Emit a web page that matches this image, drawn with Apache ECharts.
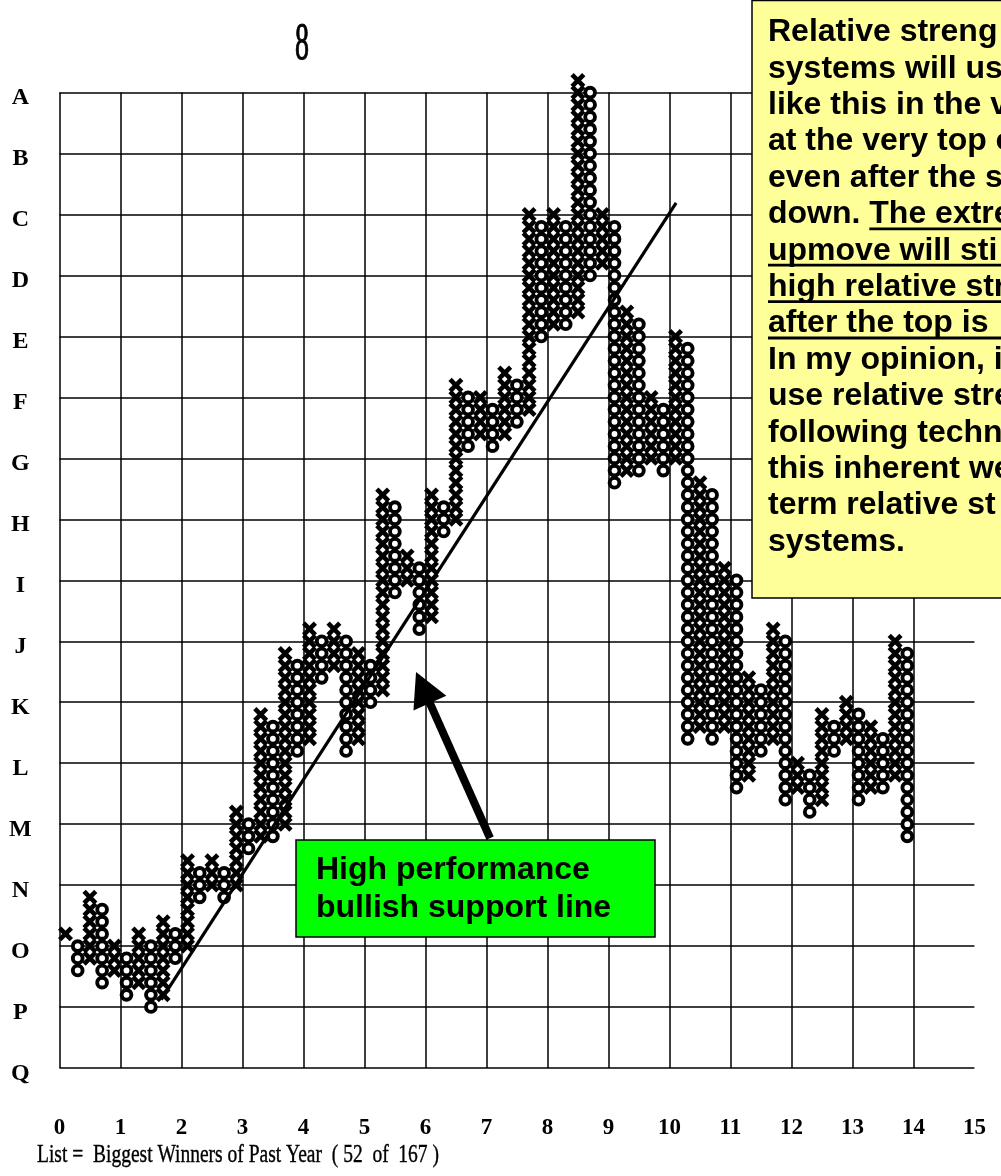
<!DOCTYPE html>
<html><head><meta charset="utf-8">
<script src="https://cdn.jsdelivr.net/npm/echarts@6/dist/echarts.min.js"></script>
<style>html,body{margin:0;padding:0;background:#fff}#c{width:1001px;height:1176px}</style>
</head><body><div id="c"></div>
<script>
// Point & figure columns (box levels, 5 boxes per lettered row)
const columnKind = ['X','O','X','O','X','O','X','O','X','O','X','O','X','O','X','O','X','O','X','O',
                    'X','O','X','O','X','O','X','O','X','O','X','O','X','O','X','O','X','O','X','O',
                    'X','O','X','O','X','O','X','O','X','O','X','O','X','O','X','O','X','O','X','O',
                    'X','O','X','O','X','O','X','O','X','O'];
const columnLow  = [11,8,9,7,8,6,7,5,6,9, 10,14,15,14,15,18,19,19,20,26, 27,32,33,26,27,30,31,39,40,36,
                    37,44,45,51,52,51,52,53,54,60, 61,61,62,65,66,48,49,49,50,49, 50,27,28,27,28,23,24,26,27,22,
                    23,21,22,26,27,22,23,23,24,19];
const columnHigh = [11,10,14,13,10,9,11,10,12,11, 17,16,17,16,21,20,29,28,34,33, 36,35,36,35,34,33,47,46,42,41,
                    47,46,56,55,55,54,57,56,70,69, 70,69,81,80,70,69,62,61,55,54, 60,59,48,47,41,40,32,31,36,35,
                    25,24,29,28,30,29,28,27,35,34];
const xTickLabels = ['0','1','2','3','4','5','6','7','8','9','10','11','12','13','14','15'];
const yTickLabels = ['A','B','C','D','E','F','G','H','I','J','K','L','M','N','O','P','Q'];
const supportLine = [[1.67,1.12],[10.11,14.19]];
const arrowLine = [[7.06,3.77],[5.96,6.24]];
const titleText = '8';
const footerText = 'List =  Biggest Winners of Past Year  ( 52  of  167 )';
const noteLines = ['Relative streng','systems will us','like this in the v','at the very top o','even after the s',
                   'down. The extre','upmove will sti','high relative str','after the top is','In my opinion, i',
                   'use relative stre','following techn','this inherent we','term relative st','systems.'];
const calloutLines = ['High performance','bullish support line'];

const BOX = 0.2; // axis units per box
const chart = echarts.init(document.getElementById('c'), null, {renderer:'canvas'});

const ctx = document.createElement('canvas').getContext('2d');
function textW(str, font){ ctx.font = font; return ctx.measureText(str).width; }

const noteFont = 'bold 32px "Liberation Sans"';
const noteTop = 32.4, noteStep = 36.4, noteX = 768;
const graphics = [];
graphics.push({type:'text', x:302, y:45, z:10, scaleY:1.9, style:{text:titleText, font:'28px "Liberation Serif"', fill:'#000', align:'center', verticalAlign:'middle', stroke:'#000', lineWidth:0.6}});
graphics.push({type:'text', x:37, y:1155, z:10, scaleY:1.3, style:{text:footerText, font:'19.5px "Liberation Serif"', fill:'#000', align:'left', verticalAlign:'middle', stroke:'#000', lineWidth:0.3}});
graphics.push({type:'rect', z:20, shape:{x:752, y:0.5, width:270, height:597.5}, style:{fill:'#FFFF99', stroke:'#000', lineWidth:1.5}});
noteLines.forEach((s,i)=>{
  const cy = noteTop + i*noteStep;
  graphics.push({type:'text', z:21, x:noteX, y:cy, style:{text:s, font:noteFont, fill:'#000', align:'left', verticalAlign:'middle'}});
  let ux0 = null;
  if (i===5) ux0 = noteX + textW('down. ', noteFont);
  if (i>=6 && i<=8) ux0 = noteX;
  if (ux0!==null) graphics.push({type:'rect', z:21, shape:{x:ux0, y:cy+13, width:1001-ux0, height:2.8}, style:{fill:'#000'}});
});
graphics.push({type:'rect', z:20, shape:{x:296, y:840, width:359, height:97}, style:{fill:'#00FF00', stroke:'#000', lineWidth:1.5}});
calloutLines.forEach((s,i)=>{
  graphics.push({type:'text', z:21, x:316, y:870 + i*38, style:{text:s, font:'bold 32px "Liberation Sans"', fill:'#000', align:'left', verticalAlign:'middle'}});
});

const splitColors = xTickLabels.map((_,i)=> i===xTickLabels.length-1 ? 'rgba(0,0,0,0)' : '#000');

chart.setOption({
  animation:false,
  backgroundColor:'#fff',
  grid:{left:59.4, top:92.6, width:915, height:975.4, containLabel:false},
  xAxis:{type:'value', min:0, max:15, interval:1,
    axisLine:{show:false}, axisTick:{show:false},
    splitLine:{show:true, lineStyle:{color:splitColors, width:1.5}},
    axisLabel:{formatter:v=>xTickLabels[v], margin:49, fontFamily:'Liberation Serif', fontSize:23, color:'#000', fontWeight:'bold'}},
  yAxis:{type:'value', min:0, max:16, interval:1,
    axisLine:{show:false}, axisTick:{show:false},
    splitLine:{show:true, lineStyle:{color:'#000', width:1.5}},
    axisLabel:{formatter:v=>'{t|'+yTickLabels[16-v]+'}', margin:39, align:'center',
      rich:{t:{padding:[11,0,0,0], fontFamily:'Liberation Serif', fontSize:24, fontWeight:'bold', color:'#000'}},
      fontFamily:'Liberation Serif', fontSize:24, fontWeight:'bold', color:'#000'}},
  series:[
    {type:'custom', coordinateSystem:'cartesian2d', clip:false, z:3, silent:true,
     data: columnKind.map((t,i)=>[i, columnLow[i], columnHigh[i], t==='X'?1:0]),
     dimensions:['col','low','high','isX'],
     encode:{x:0, y:[1,2]},
     renderItem:(params, api)=>{
       const k = api.value(0), lo = api.value(1), hi = api.value(2), isX = api.value(3)===1;
       const sz = api.size([BOX, BOX]);
       const h = sz[0]*0.48;
       const children = [];
       for (let j=lo; j<=hi; j++){
         const p = api.coord([(k+0.5)*BOX, j*BOX]);
         if (isX){
           children.push({type:'line', shape:{x1:p[0]-h, y1:p[1]-h, x2:p[0]+h, y2:p[1]+h}, style:{stroke:'#000', lineWidth:4.6}});
           children.push({type:'line', shape:{x1:p[0]+h, y1:p[1]-h, x2:p[0]-h, y2:p[1]+h}, style:{stroke:'#000', lineWidth:4.6}});
         } else {
           children.push({type:'circle', shape:{cx:p[0], cy:p[1], r:sz[0]*0.4}, style:{fill:'#fff', stroke:'#000', lineWidth:3.9}});
         }
       }
       return {type:'group', children};
     }},
    {type:'line', data:supportLine, symbol:'none', silent:true, z:5,
     lineStyle:{color:'#000', width:3.2},
     markLine:{silent:true, symbol:['none','triangle'], symbolSize:[36,34], label:{show:false},
       lineStyle:{color:'#000', width:8, type:'solid'},
       emphasis:{disabled:true},
       data:[[{coord:arrowLine[0]},{coord:arrowLine[1]}]]}}
  ],
  graphic: graphics
});
</script></body></html>
